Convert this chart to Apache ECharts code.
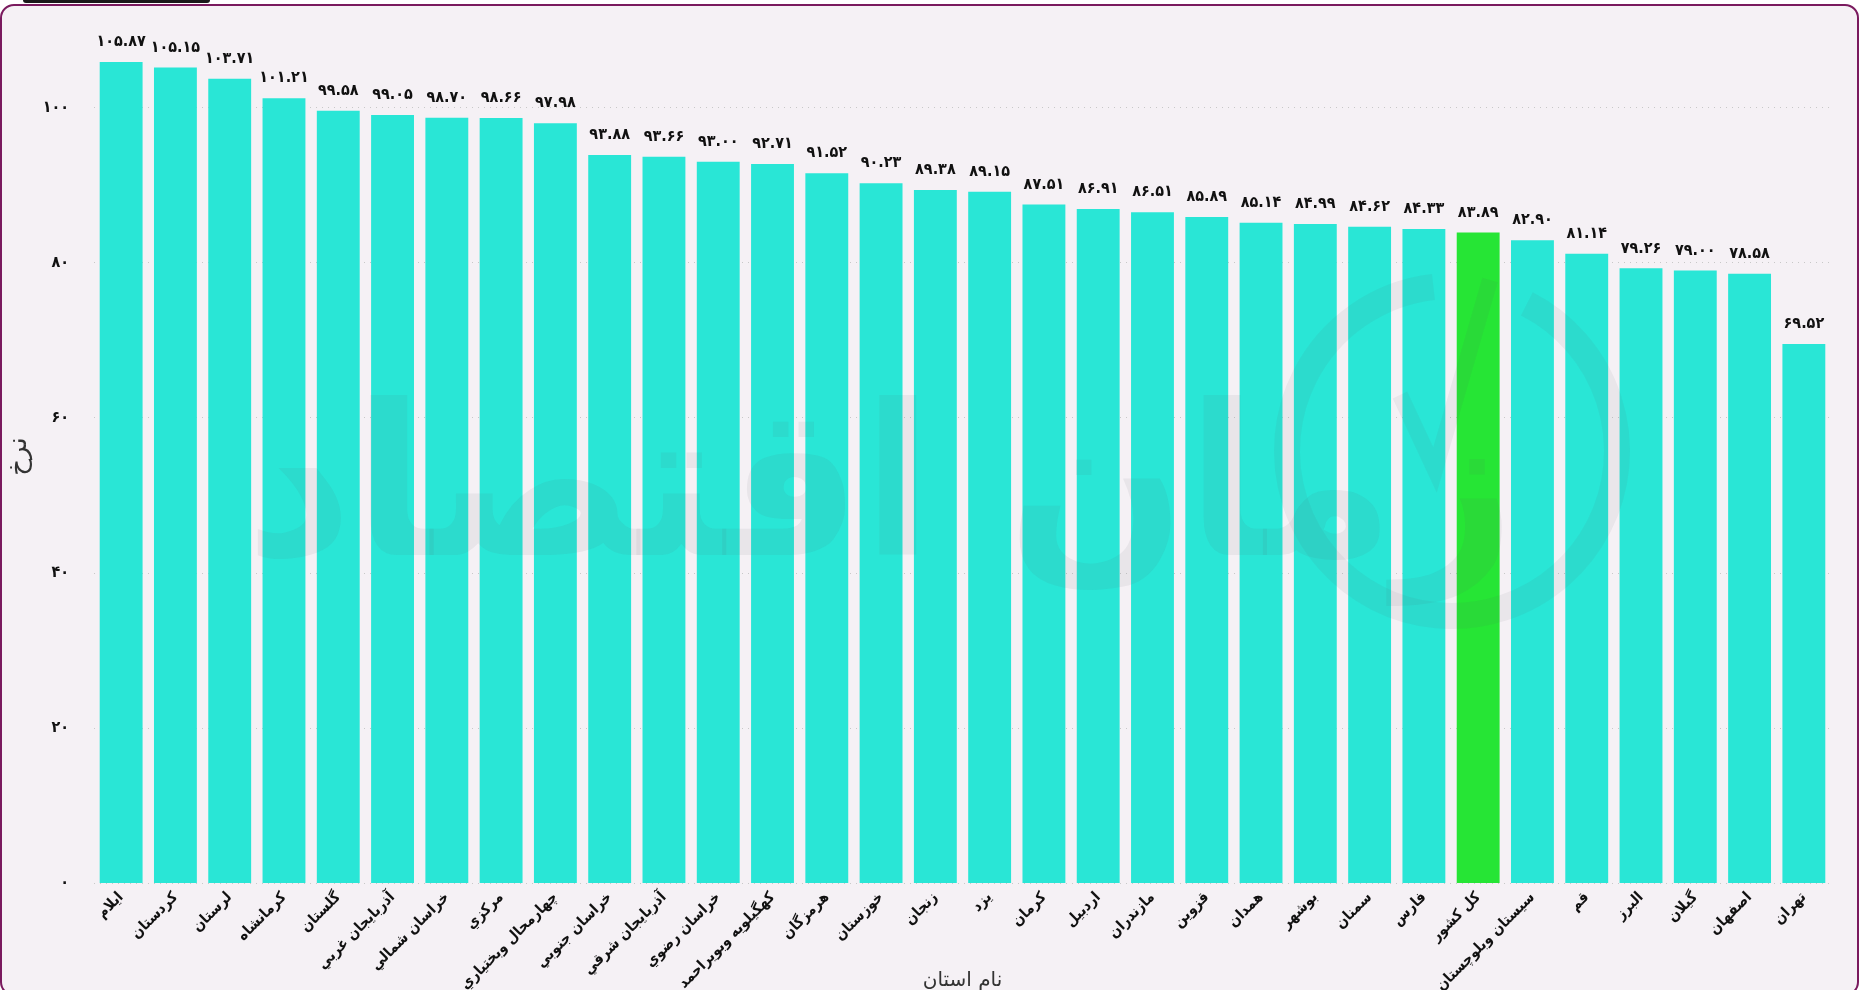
<!DOCTYPE html>
<html>
<head>
    <meta http-equiv="Content-Type" content="text/html; charset=utf-8"/>
    <title>نرخ استان‌ها</title>
    <script src="https://cdn.jsdelivr.net/npm/echarts@6/dist/echarts.min.js"></script>
    <style>
        html, body { margin: 0; padding: 0; background: #ffffff; overflow: hidden; }
        #frame {
            position: absolute; left: 0; top: 4px; width: 1855px; height: 988px;
            border: 2px solid #7a1a5e; border-radius: 14px; background: #f5f1f5;
        }
        #tab {
            position: absolute; left: 23px; top: 0; width: 187px; height: 3px;
            background: #1a1a1a; border-radius: 0 0 4px 4px;
        }
        #main { position: absolute; left: 0; top: 0; width: 1861px; height: 990px; }
    </style>
</head>
<body>
<div id="frame"></div>
<div id="tab"></div>
<div id="main"></div>
<script type="text/javascript">
    // نام استان‌ها و نرخ
    var provinces = ['ایلام', 'کردستان', 'لرستان', 'کرمانشاه', 'گلستان', 'آذربایجان غربي', 'خراسان شمالي',
        'مرکزي', 'چهارمحال وبختیاري', 'خراسان جنوبي', 'آذربایجان شرقي', 'خراسان رضوي', 'کهگیلویه وبویراحمد',
        'هرمزگان', 'خوزستان', 'زنجان', 'یزد', 'کرمان', 'اردبیل', 'مازندران', 'قزوین', 'همدان', 'بوشهر',
        'سمنان', 'فارس', 'کل کشور', 'سیستان وبلوچستان', 'قم', 'البرز', 'گیلان', 'اصفهان', 'تهران'];
    var rates = [105.87, 105.15, 103.71, 101.21, 99.58, 99.05, 98.70, 98.66, 97.98, 93.88, 93.66, 93.00,
        92.71, 91.52, 90.23, 89.38, 89.15, 87.51, 86.91, 86.51, 85.89, 85.14, 84.99, 84.62, 84.33, 83.89,
        82.90, 81.14, 79.26, 79.00, 78.58, 69.52];
    var highlight = 'کل کشور';

    var faDigits = '۰۱۲۳۴۵۶۷۸۹';
    function toFa(s) {
        return String(s).replace(/[0-9]/g, function (d) { return faDigits[+d]; });
    }

    var myChart = echarts.init(document.getElementById('main'));
    var font = '"DejaVu Sans Condensed", "DejaVu Sans", sans-serif';

    myChart.setOption({
        backgroundColor: 'transparent',
        animation: false,
        textStyle: {fontFamily: font},
        graphic: [
            {
                // واترمارک
                type: 'text', left: 245, top: 395, z: 10, silent: true,
                style: {
                    text: 'زمان اقتصاد', font: 'bold 210px "DejaVu Sans"',
                    fill: 'rgba(90,90,100,0.08)'
                }
            },
            {
                type: 'arc', z: 10, silent: true,
                shape: {cx: 1452, cy: 451, r: 165, startAngle: -1.1, endAngle: 4.6},
                style: {stroke: 'rgba(90,90,100,0.07)', lineWidth: 26, fill: null}
            },
            {
                type: 'polyline', z: 10, silent: true,
                shape: {points: [[1400, 395], [1435, 470], [1490, 280]]},
                style: {stroke: 'rgba(90,90,100,0.07)', lineWidth: 16, fill: null}
            }
        ],
        grid: {left: 94, right: 30, top: 30, bottom: 107, containLabel: false, outerBoundsMode: 'none'},
        xAxis: {
            type: 'category',
            data: provinces,
            name: 'نام استان',
            nameLocation: 'middle',
            nameGap: 88,
            nameMoveOverlap: false,
            nameTextStyle: {fontSize: 20, color: '#333', fontFamily: '"DejaVu Sans"'},
            axisLine: {show: false},
            axisTick: {show: false},
            axisLabel: {
                rotate: 45, interval: 0, margin: 12,
                fontSize: 15, fontWeight: 'bold', color: '#111', fontFamily: font
            }
        },
        yAxis: {
            type: 'value',
            min: 0, max: 110, interval: 20,
            name: 'نرخ',
            nameLocation: 'middle',
            nameGap: 62,
            nameMoveOverlap: false,
            nameTextStyle: {fontSize: 26, color: '#333', fontFamily: '"DejaVu Sans"'},
            axisLine: {show: false},
            axisTick: {show: false},
            axisLabel: {
                margin: 25, fontSize: 16, fontWeight: 'bold', color: '#111',
                showMaxLabel: false,
                formatter: function (v) { return toFa(v); }
            },
            splitLine: {
                showMaxLine: false,
                lineStyle: {color: '#c8c8c8', type: [1, 5], width: 1}
            }
        },
        series: [
            {
                type: 'bar',
                barWidth: '79%',
                data: rates.map(function (v, i) {
                    return {
                        value: v,
                        itemStyle: {color: provinces[i] === highlight ? '#26e535' : '#29e6d6'}
                    };
                }),
                label: {
                    show: true,
                    position: 'top',
                    distance: 12,
                    fontSize: 16,
                    fontWeight: 'bold',
                    color: '#111',
                    fontFamily: font,
                    formatter: function (p) { return toFa(p.value.toFixed(2)); }
                }
            }
        ]
    });
</script>
</body>
</html>
